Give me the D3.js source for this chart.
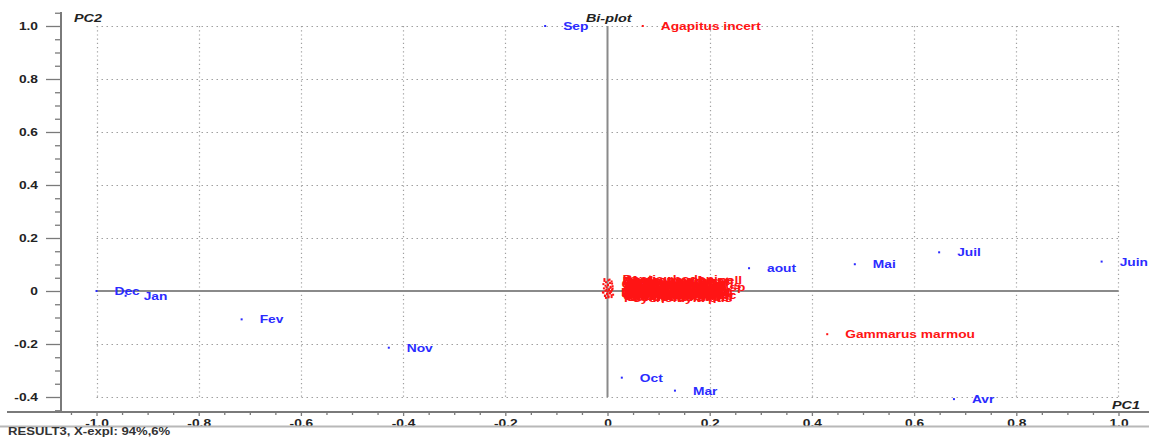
<!DOCTYPE html>
<html>
<head>
<meta charset="utf-8">
<script src="https://cdn.jsdelivr.net/npm/d3@7/dist/d3.min.js"></script>
<style>
  html, body { margin: 0; padding: 0; background: #fff; }
  svg { display: block; }
  text { font-family: "Liberation Sans", Arial, sans-serif; font-weight: bold; }
</style>
</head>
<body>
<svg id="chart" width="1149" height="437"></svg>
<script>
// Samples (months) – scores on PC1 / PC2
const months    = ["Sep", "Dec", "Jan", "Fev", "Nov", "Oct", "Mar", "Avr", "aout", "Mai", "Juil", "Juin"];
const monthPC1  = [-0.122, -1.0, -0.943, -0.716, -0.428, 0.028, 0.132, 0.678, 0.277, 0.484, 0.649, 0.967];
const monthPC2  = [1.0, 0.0, -0.018, -0.107, -0.214, -0.327, -0.376, -0.408, 0.086, 0.101, 0.146, 0.111];

// Taxa – loadings on PC1 / PC2
const taxa = [
  "Agapitus incert", "Gammarus marmou",
  "Baetis rhodani", "Hydropsyche sp", "Simulium ornat", "Chironomus pl",
  "Ephemerella ig", "Caenis luctuo", "Echinogammarus", "Elmis maugeti",
  "Rhyacophila do", "Perla marginat", "Ancylus fluvia", "Physa acuta sp",
  "Tipula sp", "Limnius volckm", "Potamopyrgus", "Leuctra genicul",
  "Dugesia gonoce", "Hydraena sp", "Ecdyonurus sp", "Choroterpes pic",
  "Oligoneuriella", "Atherix ibis", "Gomphus simill", "Psychomyia pus",
  "Hydropsyche pell", "Baetis pavidus", "Esolus parallel", "Ceratopogonid",
  "Dixa maculata", "Hemerodromia sp", "Serratella ign", "Habrophlebia fu",
  "Orthocladiinae", "Tanypodinae sp", "Lumbriculidae", "Micronecta sp",
  "Dryops luridus", "Oulimnius tuber", "Calopteryx hae", "Sericostoma pe"
];
const taxaPC1 = [
  0.069, 0.430,
  -0.006, 0.002, 0.008, -0.003, 0.005, -0.008, 0.001, 0.010,
  -0.002, 0.006, -0.007, 0.003, 0.009, -0.004, 0.000, 0.007,
  -0.009, 0.004, -0.001, 0.011, -0.005, 0.002, 0.008, -0.003,
  0.004, -0.006, 0.009, 0.001, -0.004, 0.006, 0.010, -0.002,
  0.003, 0.007, -0.008, 0.005, 0.000, 0.008, -0.005, 0.002
];
const taxaPC2 = [
  1.0, -0.163,
  0.045, 0.040, 0.036, 0.033, 0.030, 0.026, 0.022, 0.018,
  0.014, 0.012, 0.010, 0.007, 0.004, 0.001, -0.002, -0.003,
  -0.005, -0.008, -0.011, -0.014, -0.017, -0.020, -0.023, -0.026,
  0.043, 0.038, 0.028, 0.024, 0.020, 0.016, 0.009, 0.005,
  0.002, -0.001, -0.006, -0.009, -0.013, -0.016, -0.019, -0.024
];

// Axis ticks
const xTickValues = [-1.0, -0.8, -0.6, -0.4, -0.2, 0, 0.2, 0.4, 0.6, 0.8, 1.0];
const xTickLabels = ["-1.0", "-0.8", "-0.6", "-0.4", "-0.2", "0", "0.2", "0.4", "0.6", "0.8", "1.0"];
const yTickValues = [-0.4, -0.2, 0, 0.2, 0.4, 0.6, 0.8, 1.0];
const yTickLabels = ["-0.4", "-0.2", "0", "0.2", "0.4", "0.6", "0.8", "1.0"];

const svg = d3.select("#chart");
const W = 1149;
const plotLeft = 61, plotRight = 1149, plotTop = 12, plotBottom = 412;

const x = d3.scaleLinear().domain([-1.0695, 1.0597]).range([plotLeft, plotRight]);
const y = d3.scaleLinear().domain([-0.4566, 1.0528]).range([plotBottom, plotTop]);

const STRETCH = 1.25;      // text is drawn horizontally widened
const BLUE = "#2b2bff", RED = "#ff1414", AXIS = "#7a7a7a", GRID = "#a0a0a0";

function wide(sel) {
  // move x/y into a transform so the horizontal stretch keeps the anchor point
  sel.each(function() {
    const t = d3.select(this);
    const tx = +t.attr("x") || 0;
    const ty = +t.attr("y") || 0;
    t.attr("x", 0).attr("y", 0)
     .attr("transform", `translate(${tx},${ty}) scale(${STRETCH},1)`);
  });
}

// Dotted grid
const gx0 = x(-1), gx1 = x(1), gy0 = y(1), gy1 = y(-0.4);
svg.append("g").selectAll("line").data(yTickValues.filter(v => v !== 0)).join("line")
  .attr("x1", gx0).attr("x2", gx1)
  .attr("y1", d => Math.round(y(d)) + 0.5).attr("y2", d => Math.round(y(d)) + 0.5)
  .attr("stroke", GRID).attr("stroke-width", 1.2).attr("stroke-dasharray", "1.5,3.5");
svg.append("g").selectAll("line").data(xTickValues.filter(v => v !== 0)).join("line")
  .attr("x1", d => Math.round(x(d)) + 0.5).attr("x2", d => Math.round(x(d)) + 0.5)
  .attr("y1", gy0).attr("y2", gy1)
  .attr("stroke", GRID).attr("stroke-width", 1.2).attr("stroke-dasharray", "1.2,3");

// Origin cross
svg.append("line").attr("x1", x(0)).attr("x2", x(0)).attr("y1", gy0).attr("y2", gy1)
  .attr("stroke", "#8a8a8a").attr("stroke-width", 2);
svg.append("line").attr("x1", gx0).attr("x2", gx1).attr("y1", y(0)).attr("y2", y(0))
  .attr("stroke", "#8a8a8a").attr("stroke-width", 2);

// Minor ticks every 0.05
const yMinor = d3.range(-9, 22).map(i => i * 0.05).filter(v => Math.abs(Math.round(v * 5) - v * 5) > 1e-6);
const xMinor = d3.range(-21, 22).map(i => i * 0.05).filter(v => Math.abs(Math.round(v * 5) - v * 5) > 1e-6 && v > -1.06 && v < 1.05);

// Y axis
const yAxisG = svg.append("g").attr("transform", `translate(${plotLeft},0)`);
yAxisG.call(d3.axisLeft(y).tickValues(yTickValues).tickSize(15).tickPadding(8)
  .tickFormat((d, i) => yTickLabels[i]));
const yMinorG = svg.append("g").attr("transform", `translate(${plotLeft},0)`);
yMinorG.call(d3.axisLeft(y).tickValues(yMinor).tickSize(6).tickFormat(""));

// X axis
const xAxisG = svg.append("g").attr("transform", `translate(0,${plotBottom})`);
xAxisG.call(d3.axisBottom(x).tickValues(xTickValues).tickSize(4).tickPadding(2)
  .tickFormat((d, i) => xTickLabels[i]));
const xMinorG = svg.append("g").attr("transform", `translate(0,${plotBottom})`);
xMinorG.call(d3.axisBottom(x).tickValues(xMinor).tickSize(3).tickFormat(""));

[yAxisG, yMinorG, xAxisG, xMinorG].forEach(g => {
  g.select(".domain").remove();
  g.selectAll(".tick line").attr("stroke", AXIS).attr("stroke-width", 1.3);
  g.selectAll(".tick text").attr("fill", "#222").attr("font-size", 11)
    .attr("font-family", "'Liberation Sans', Arial, sans-serif").attr("font-weight", "bold");
});
yAxisG.selectAll(".tick text").call(wide);
xAxisG.selectAll(".tick text").attr("dy", "0.85em").call(wide);

// Axis lines
svg.append("line").attr("x1", plotLeft).attr("x2", plotLeft).attr("y1", plotTop).attr("y2", plotBottom)
  .attr("stroke", AXIS).attr("stroke-width", 2);
svg.append("line").attr("x1", 7).attr("x2", W).attr("y1", plotBottom).attr("y2", plotBottom)
  .attr("stroke", AXIS).attr("stroke-width", 2);

// Footer separator and status text
svg.append("line").attr("x1", 0).attr("x2", W).attr("y1", 426.5).attr("y2", 426.5)
  .attr("stroke", "#b8b8b8").attr("stroke-width", 2);
svg.append("text").attr("x", 8).attr("y", 435).attr("font-size", 10.5).attr("fill", "#333")
  .text("RESULT3, X-expl: 94%,6%").call(wide);

// Titles
svg.append("text").attr("x", 74).attr("y", 22).attr("font-size", 11.5).attr("font-style", "italic")
  .attr("fill", "#222").text("PC2").call(wide);
svg.append("text").attr("x", 586).attr("y", 22).attr("font-size", 11.5).attr("font-style", "italic")
  .attr("fill", "#222").text("Bi-plot").call(wide);
svg.append("text").attr("x", 1112).attr("y", 409).attr("font-size", 11.5).attr("font-style", "italic")
  .attr("fill", "#222").text("PC1").call(wide);

// Points + labels
function plotSet(names, px, py, color) {
  const data = names.map((n, i) => ({ n, a: px[i], b: py[i] }));
  const g = svg.append("g");
  g.selectAll("rect").data(data).join("rect")
    .attr("x", d => x(d.a) - 1).attr("y", d => y(d.b) - 1)
    .attr("width", 2).attr("height", 2).attr("fill", color);
  g.selectAll("text").data(data).join("text")
    .attr("dy", "0.36em").attr("font-size", 11).attr("fill", color)
    .attr("transform", d => `translate(${x(d.a) + 18},${y(d.b)}) scale(${STRETCH},1)`)
    .text(d => d.n);
}
plotSet(taxa, taxaPC1, taxaPC2, RED);
plotSet(months, monthPC1, monthPC2, BLUE);
</script>
</body>
</html>
